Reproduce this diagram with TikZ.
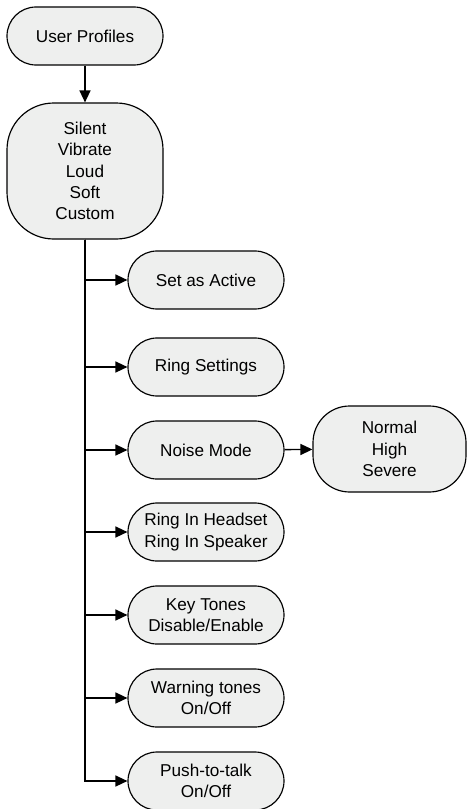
\documentclass[tikz,border=0pt]{standalone}
\usepackage{fontspec}
\setmainfont{Liberation Sans}
\usetikzlibrary{arrows.meta}
\definecolor{boxgray}{RGB}{238,239,238}
\tikzset{
	pill/.style={draw, fill=boxgray, line width=0.7pt, rounded corners=17.4pt, minimum width=93.6pt, minimum height=34.8pt, inner sep=0pt, align=center, font=\fontsize{10.3}{12.8}\selectfont},
	link/.style={line width=0.85pt, -{Triangle[length=7.2pt,width=6.6pt]}}
}

\begin{document}
\begin{tikzpicture}[x=0.6pt, y=-0.6pt]
				\useasboundingbox (0,0) rectangle (468,809);
				
				\node[pill] (profiles) at (85,36) {User Profiles};
				\node[pill, minimum height=81.6pt, rounded corners=28pt] (modes) at (85,171) {Silent\\Vibrate\\Loud\\Soft\\Custom};
				
				\node[pill] (active) at (206,280) {Set as Active};
				\node[pill] (ring) at (206,367) {Ring Settings};
				\node[pill] (noise) at (206,450) {Noise Mode};
				\node[pill] (headset) at (206,532) {Ring In Headset\\Ring In Speaker};
				\node[pill] (keys) at (206,615) {Key Tones\\Disable/Enable};
				\node[pill] (warning) at (206,698) {Warning tones\\On/Off};
				\node[pill] (ptt) at (206,781) {Push-to-talk\\On/Off};
				
				\node[pill, minimum width=91.8pt, minimum height=51.6pt, rounded corners=22pt] (level) at (389.5,449) {Normal\\High\\Severe};
				
				\draw[link] (profiles) -- (modes);
				\foreach \n in {active,ring,noise,headset,keys,warning,ptt}
					\draw[link] (modes.south) |- (\n.west);
				\draw[link] (noise) -- (level);
			\end{tikzpicture}
\end{document}
